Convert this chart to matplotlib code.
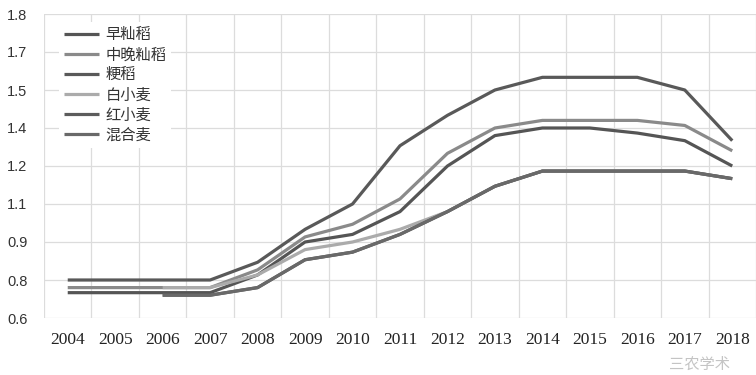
import numpy as np
import matplotlib as mpl
mpl.use('Agg')
import matplotlib.pyplot as plt

plt.rcParams['font.family'] = ['Noto Sans CJK SC', 'DejaVu Sans']

years = ['2004', '2005', '2006', '2007', '2008', '2009', '2010', '2011',
         '2012', '2013', '2014', '2015', '2016', '2017', '2018']
nan = np.nan
# minimum purchase prices (yuan / 500 g)
zao_xian = [0.70, 0.70, 0.70, 0.70, 0.77, 0.90, 0.93, 1.02, 1.20, 1.32, 1.35, 1.35, 1.33, 1.30, 1.20]
zhongwan_xian = [0.72, 0.72, 0.72, 0.72, 0.79, 0.92, 0.97, 1.07, 1.25, 1.35, 1.38, 1.38, 1.38, 1.36, 1.26]
geng = [0.75, 0.75, 0.75, 0.75, 0.82, 0.95, 1.05, 1.28, 1.40, 1.50, 1.55, 1.55, 1.55, 1.50, 1.30]
bai_mai = [nan, nan, 0.72, 0.72, 0.77, 0.87, 0.90, 0.95, 1.02, 1.12, 1.18, 1.18, 1.18, 1.18, 1.15]
hong_mai = [nan, nan, 0.69, 0.69, 0.72, 0.83, 0.86, 0.93, 1.02, 1.12, 1.18, 1.18, 1.18, 1.18, 1.15]
hunhe_mai = [nan, nan, 0.69, 0.69, 0.72, 0.83, 0.86, 0.93, 1.02, 1.12, 1.18, 1.18, 1.18, 1.18, 1.15]

y_labels = ['0.6', '0.8', '0.9', '1.1', '1.2', '1.4', '1.5', '1.7', '1.8']

series = [
    ('早籼稻', zao_xian, '#555555'),
    ('中晚籼稻', zhongwan_xian, '#8a8a8a'),
    ('粳稻', geng, '#595959'),
    ('白小麦', bai_mai, '#ababab'),
    ('红小麦', hong_mai, '#5c5c5c'),
    ('混合麦', hunhe_mai, '#696969'),
]

fig = plt.figure(figsize=(7.56, 3.75), dpi=100)
ax = fig.add_axes([44 / 756, 1 - 318 / 375, 712 / 756, 304 / 375])

x = np.arange(len(years))
for name, vals, col in series:
    ax.plot(x, vals, color=col, lw=2.3, label=name, solid_capstyle='butt')

ax.set_xlim(-0.5, len(years) - 0.5)
ax.set_ylim(0.6, 1.8)
ax.set_yticks(np.linspace(0.6, 1.8, len(y_labels)))
ax.set_yticklabels(y_labels, family='Liberation Sans', fontsize=10.5, color='#333333')
ax.set_xticks(x)
ax.set_xticklabels(years, family='Liberation Serif', fontsize=12.5, color='#222222')
ax.set_xticks(np.arange(-0.5, len(years), 1), minor=True)
ax.tick_params(axis='both', which='both', length=0)
ax.tick_params(axis='x', pad=10)
ax.tick_params(axis='y', pad=12)
ax.grid(True, axis='y', which='major', color='#dcdcdc', lw=0.9)
ax.grid(True, axis='x', which='minor', color='#dcdcdc', lw=0.9)
ax.set_axisbelow(True)
for s in ax.spines.values():
    s.set_visible(False)

leg = ax.legend(loc='upper left', bbox_to_anchor=(0.021, 0.975), frameon=True,
                fontsize=11, handlelength=2.3, handletextpad=0.45,
                labelspacing=0.2, borderaxespad=0, borderpad=0.3)
leg.get_frame().set_edgecolor('none')
leg.get_frame().set_facecolor('white')
leg.get_frame().set_alpha(1)
for t in leg.get_texts():
    t.set_color('#333333')

fig.text(0.885, 0.015, '三农学术', fontsize=11, color='#c4c4c4')

fig.savefig('out.png', dpi=100)
